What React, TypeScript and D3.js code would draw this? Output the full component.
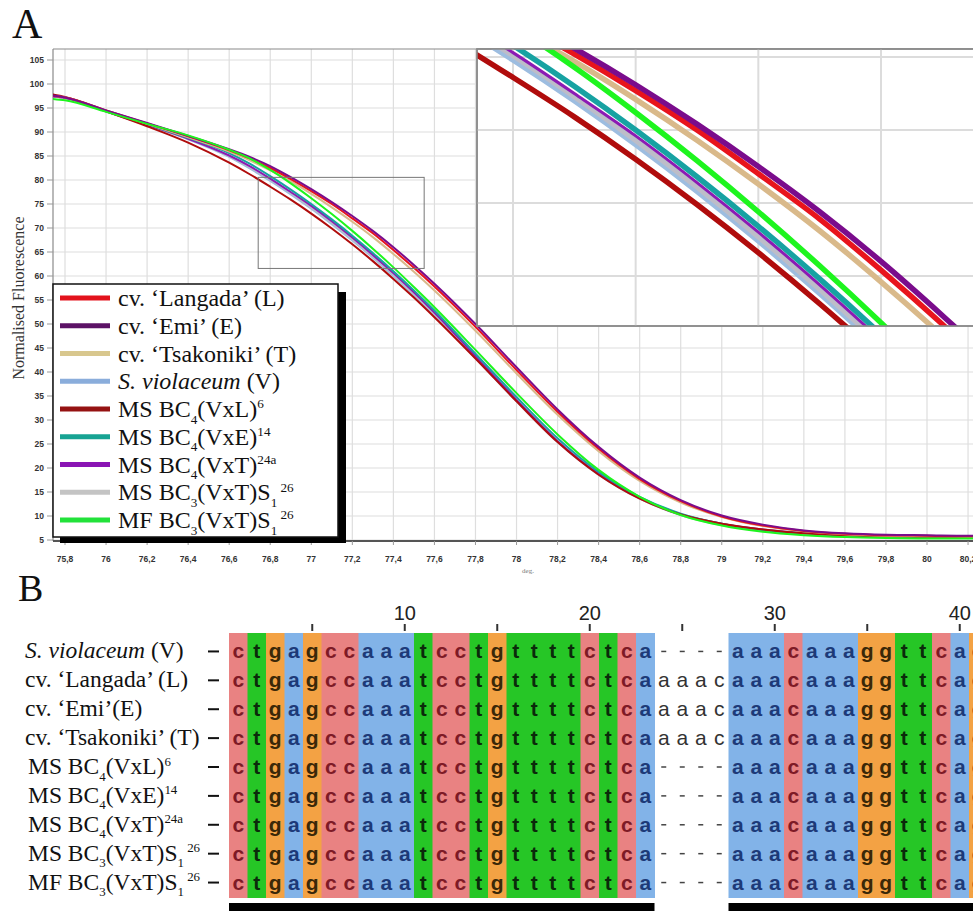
import React from 'react';
import * as d3 from 'd3';

// melt curve temperatures (deg) and normalised fluorescence per line
const temps = [75.74, 75.8, 76.0, 76.2, 76.4, 76.6, 76.7, 76.8, 76.9, 77.0, 77.1, 77.2, 77.3, 77.4, 77.5, 77.6, 77.8, 78.0, 78.2, 78.4, 78.6, 78.8, 79.0, 79.2, 79.4, 79.6, 79.8, 80.0, 80.2, 80.3];
const langada = [97.5, 97.2, 94.5, 91.8, 89.1, 86.2, 84.5, 82.5, 80.2, 77.7, 75.0, 72.0, 68.9, 65.4, 61.7, 57.8, 49.4, 40.4, 31.7, 24.0, 17.7, 13.1, 9.9, 8.0, 6.9, 6.3, 6.0, 5.9, 5.8, 5.8];
const emi = [97.6, 97.2, 94.5, 91.9, 89.2, 86.4, 84.8, 82.9, 80.6, 78.1, 75.4, 72.5, 69.4, 66.0, 62.3, 58.4, 50.0, 41.0, 32.2, 24.4, 18.0, 13.3, 10.1, 8.2, 7.0, 6.4, 6.1, 6.0, 5.9, 5.9];
const tsakoniki = [97.5, 97.2, 94.5, 91.7, 88.9, 85.9, 84.1, 82.0, 79.7, 77.1, 74.3, 71.3, 68.1, 64.6, 60.9, 57.0, 48.6, 39.7, 31.1, 23.5, 17.3, 12.8, 9.8, 7.9, 6.8, 6.2, 5.9, 5.8, 5.7, 5.7];
const violaceum = [97.4, 97.1, 94.3, 91.4, 88.5, 84.8, 82.4, 79.8, 77.0, 74.0, 70.8, 67.4, 63.8, 60.0, 56.0, 51.8, 42.9, 33.9, 25.4, 18.6, 13.6, 10.2, 8.2, 7.0, 6.3, 5.9, 5.7, 5.6, 5.6, 5.6];
const msVxL = [97.8, 97.3, 94.3, 91.2, 87.8, 83.6, 81.2, 78.6, 75.9, 73.0, 69.9, 66.6, 63.1, 59.4, 55.5, 51.4, 42.8, 33.9, 25.4, 18.6, 13.6, 10.3, 8.4, 7.2, 6.4, 6.0, 5.8, 5.7, 5.6, 5.6];
const msVxE = [97.5, 97.2, 94.4, 91.6, 88.8, 85.6, 83.4, 80.8, 78.0, 75.0, 71.8, 68.4, 64.8, 61.0, 57.0, 52.8, 43.8, 34.8, 26.2, 19.2, 14.0, 10.5, 8.4, 7.1, 6.4, 6.0, 5.8, 5.7, 5.6, 5.6];
const msVxT = [97.4, 97.1, 94.3, 91.5, 88.6, 85.1, 82.9, 80.3, 77.5, 74.6, 71.4, 68.0, 64.4, 60.6, 56.6, 52.4, 43.3, 34.2, 25.6, 18.8, 13.8, 10.4, 8.4, 7.2, 6.5, 6.1, 5.9, 5.8, 5.7, 5.7];
const msBC3 = [97.4, 97.1, 94.3, 91.4, 88.6, 85.0, 82.7, 80.1, 77.3, 74.3, 71.1, 67.7, 64.1, 60.3, 56.3, 52.1, 43.2, 34.2, 25.6, 18.8, 13.7, 10.2, 8.1, 6.9, 6.2, 5.8, 5.6, 5.5, 5.5, 5.5];
const mfBC3 = [96.9, 96.6, 94.2, 91.7, 89.3, 86.3, 84.5, 82.1, 79.3, 76.2, 72.9, 69.4, 65.7, 61.8, 57.7, 53.5, 44.6, 35.6, 27.0, 19.6, 14.0, 10.2, 8.0, 6.7, 6.0, 5.6, 5.4, 5.3, 5.3, 5.3];

const xTicks = [75.8, 76, 76.2, 76.4, 76.6, 76.8, 77, 77.2, 77.4, 77.6, 77.8, 78, 78.2, 78.4, 78.6, 78.8, 79, 79.2, 79.4, 79.6, 79.8, 80, 80.2];
const yTicks = [5, 10, 15, 20, 25, 30, 35, 40, 45, 50, 55, 60, 65, 70, 75, 80, 85, 90, 95, 100, 105];
const insetXGrid = [76.8, 77.0, 77.2, 77.4];
const insetYGrid = [65, 70, 75, 80];

type Part = [string, string];

// legend order
const legendLabels: Part[][] = [
  [['cv. ‘Langada’ (L)', '']],
  [['cv. ‘Emi’ (E)', '']],
  [['cv. ‘Tsakoniki’ (T)', '']],
  [['S. violaceum', 'i'], [' (V)', '']],
  [['MS BC', ''], ['4', 'sub'], ['(VxL)', ''], ['6', 'sup']],
  [['MS BC', ''], ['4', 'sub'], ['(VxE)', ''], ['14', 'sup']],
  [['MS BC', ''], ['4', 'sub'], ['(VxT)', ''], ['24a', 'sup']],
  [['MS BC', ''], ['3', 'sub'], ['(VxT)S', ''], ['1', 'sub'], ['\u00a026', 'sup']],
  [['MF BC', ''], ['3', 'sub'], ['(VxT)S', ''], ['1', 'sub'], ['\u00a026', 'sup']],
];
const legendColors = ['#e3121c', '#5c1266', '#d8c78e', '#8aaddb', '#951212', '#17a393', '#8a14b4', '#c4c4c4', '#22e23a'];
const curveColors = ['#e8141c', '#7a0c8c', '#d9b98a', '#9dbde0', '#b00c0c', '#17a2a2', '#8c1ab4', '#bdbdc8', '#1ef51e'];
const curveValues = [langada, emi, tsakoniki, violaceum, msVxL, msVxE, msVxT, msBC3, mfBC3];
const drawOrder = [3, 7, 6, 5, 4, 2, 0, 1, 8];

// alignment (panel B)
const alignLabels: Part[][] = [
  [['S. violaceum', 'i'], [' (V)', '']],
  [['cv. ‘Langada’ (L)', '']],
  [['cv. ‘Emi’(E)', '']],
  [['cv. ‘Tsakoniki’ (T)', '']],
  [['MS BC', ''], ['4', 'sub'], ['(VxL)', ''], ['6', 'sup']],
  [['MS BC', ''], ['4', 'sub'], ['(VxE)', ''], ['14', 'sup']],
  [['MS BC', ''], ['4', 'sub'], ['(VxT)', ''], ['24a', 'sup']],
  [['MS BC', ''], ['3', 'sub'], ['(VxT)S', ''], ['1', 'sub'], ['\u00a026', 'sup']],
  [['MF BC', ''], ['3', 'sub'], ['(VxT)S', ''], ['1', 'sub'], ['\u00a026', 'sup']],
];
const seqHead = 'ctgagccaaatcctgttttctca';
const seqInsert = ['----', 'aaac', 'aaac', 'aaac', '----', '----', '----', '----', '----'];
const seqTail = 'aaacaaaggttcag';
const rulerTicks = [5, 10, 15, 20, 25, 30, 35, 40];
const rulerLabels = [10, 20, 30, 40];

const baseBg: Record<string, string> = { a: '#82b3e8', c: '#e98282', g: '#f3a244', t: '#26c626' };
const baseFg: Record<string, string> = { a: '#1d3a78', c: '#7e1a26', g: '#3a2808', t: '#0b2a0b' };

const serif = "'Liberation Serif', 'Times New Roman', serif";
const sans = "'Liberation Sans', Arial, sans-serif";

function Rich({ parts, x, y, size }: { parts: Part[]; x: number; y: number; size: number }) {
  let cur = 0;
  return (
    <text x={x} y={y} fontSize={size} fontFamily={serif} fill="#111">
      {parts.map(([t, s], i) => {
        const target = s === 'sub' ? size * 0.28 : s === 'sup' ? -size * 0.36 : 0;
        const dy = target - cur;
        cur = target;
        const small = s === 'sub' || s === 'sup';
        return (
          <tspan key={i} dy={dy} fontSize={small ? size * 0.55 : size} fontStyle={s === 'i' ? 'italic' : 'normal'}>
            {t}
          </tspan>
        );
      })}
    </text>
  );
}

export default function App() {
  const W = 973;
  const H = 911;

  // panel A scales
  const x = d3.scaleLinear().domain([75.8, 80]).range([65, 927]);
  const y = d3.scaleLinear().domain([5, 105]).range([540, 60]);
  const frame = { l: 53, t: 49, r: W, b: 541 };

  // inset scales (3x zoom of the boxed region)
  const xi = d3.scaleLinear().domain([76.8, 77.4]).range([513, 881]);
  const yi = d3.scaleLinear().domain([65, 75]).range([276, 130]);
  const inset = { l: 477, t: 49, r: W + 2, b: 326 };

  const series = temps.map((_, i) => i);
  const line = d3
    .line<number>()
    .x((i) => x(temps[i]))
    .curve(d3.curveMonotoneX);
  const lineI = d3
    .line<number>()
    .x((i) => xi(temps[i]))
    .curve(d3.curveMonotoneX);

  const fmt = (v: number) => String(v).replace('.', ',');

  // panel B scales
  const cols = d3.range(1, 42);
  const colX = d3.scaleBand<number>().domain(cols).range([229, 229 + 41 * 18.5]);
  const rowY = d3.scaleBand<number>().domain(d3.range(9)).range([637, 897]);
  const consensus = seqHead + '    ' + seqTail;

  const legendY = (i: number) => 298 + i * 27.75;

  return (
    <svg width={W} height={H} style={{ position: 'absolute', left: 0, top: 0, background: '#fff' }}>
      <defs>
        <clipPath id="plotClip">
          <rect x={frame.l} y={frame.t} width={frame.r - frame.l} height={frame.b - frame.t} />
        </clipPath>
        <clipPath id="insetClip">
          <rect x={inset.l} y={inset.t} width={inset.r - inset.l} height={inset.b - inset.t} />
        </clipPath>
      </defs>
      <rect width={W} height={H} fill="#fff" />

      {/* panel A */}
      <text x={12} y={38} fontFamily={serif} fontSize={42} fill="#111">A</text>

      {xTicks.map((t) => (
        <line key={'gx' + t} x1={x(t)} x2={x(t)} y1={frame.t} y2={frame.b} stroke="#dedede" strokeWidth={1.2} />
      ))}
      {yTicks.map((t) => (
        <line key={'gy' + t} x1={frame.l} x2={frame.r} y1={y(t)} y2={y(t)} stroke="#dedede" strokeWidth={1.2} />
      ))}
      <line x1={frame.l} x2={frame.r} y1={frame.t} y2={frame.t} stroke="#8a8a8a" strokeWidth={1.2} />
      <line x1={frame.l} x2={frame.l} y1={frame.t} y2={frame.b} stroke="#8a8a8a" strokeWidth={1.2} />

      <g clipPath="url(#plotClip)">
        {drawOrder.map((k) => (
          <path
            key={'c' + k}
            d={line.y((i) => y(curveValues[k][i]))(series) || ''}
            fill="none"
            stroke={curveColors[k]}
            strokeWidth={2}
          />
        ))}
      </g>

      {/* zoom box */}
      <rect
        x={x(xi.invert(inset.l))}
        y={y(yi.invert(inset.t))}
        width={x(xi.invert(W)) - x(xi.invert(inset.l))}
        height={y(yi.invert(inset.b)) - y(yi.invert(inset.t))}
        fill="none"
        stroke="#777"
        strokeWidth={1}
      />

      {/* axes */}
      {yTicks.map((t) => (
        <g key={'yt' + t}>
          <line x1={47} x2={frame.l} y1={y(t)} y2={y(t)} stroke="#999" />
          <text x={44} y={y(t) + 3} textAnchor="end" fontFamily={sans} fontWeight={700} fontSize={8.5} fill="#333">
            {t}
          </text>
        </g>
      ))}
      <line x1={frame.l} x2={frame.r} y1={frame.b} y2={frame.b} stroke="#555" strokeWidth={2} />
      {xTicks.map((t) => (
        <g key={'xt' + t}>
          <line x1={x(t)} x2={x(t)} y1={frame.b} y2={frame.b + 4} stroke="#999" />
          <text x={x(t)} y={562} textAnchor="middle" fontFamily={sans} fontWeight={700} fontSize={8.5} fill="#333">
            {fmt(t)}
          </text>
        </g>
      ))}
      <text x={528} y={573} textAnchor="middle" fontFamily={serif} fontSize={7} fill="#777">deg.</text>
      <text
        transform="translate(24,298) rotate(-90)"
        textAnchor="middle"
        fontFamily={serif}
        fontSize={16}
        fill="#333"
      >
        Normalised Fluorescence
      </text>

      {/* inset */}
      <rect x={inset.l} y={inset.t} width={inset.r - inset.l} height={inset.b - inset.t} fill="#fff" stroke="#8a8a8a" strokeWidth={1.5} />
      <g clipPath="url(#insetClip)">
        {insetXGrid.map((t) => (
          <line key={'ix' + t} x1={xi(t)} x2={xi(t)} y1={inset.t} y2={inset.b} stroke="#dcdcdc" strokeWidth={2} />
        ))}
        {insetYGrid.map((t) => (
          <line key={'iy' + t} x1={inset.l} x2={inset.r} y1={yi(t)} y2={yi(t)} stroke="#dcdcdc" strokeWidth={2} />
        ))}
        {drawOrder.map((k) => (
          <path
            key={'ic' + k}
            d={lineI.y((i) => yi(curveValues[k][i]))(series) || ''}
            fill="none"
            stroke={curveColors[k]}
            strokeWidth={k === 6 ? 3 : 5.5}
          />
        ))}
      </g>
      <rect x={inset.l} y={inset.t} width={inset.r - inset.l} height={inset.b - inset.t} fill="none" stroke="#8a8a8a" strokeWidth={1.5} />

      {/* legend */}
      <rect x={60} y={292} width={286} height={251} fill="#000" />
      <rect x={53} y={284} width={285} height={253} fill="#fff" stroke="#111" strokeWidth={1.5} />
      {legendLabels.map((parts, i) => (
        <g key={'lg' + i}>
          <line x1={60} x2={110} y1={legendY(i)} y2={legendY(i)} stroke={legendColors[i]} strokeWidth={5} />
          <Rich parts={parts} x={118} y={legendY(i) + 8} size={24} />
        </g>
      ))}

      {/* panel B */}
      <text x={18} y={601} fontFamily={serif} fontSize={38} fill="#111">B</text>

      {rulerTicks.map((t) => (
        <line
          key={'rt' + t}
          x1={(colX(t) || 0) + colX.bandwidth() / 2}
          x2={(colX(t) || 0) + colX.bandwidth() / 2}
          y1={624}
          y2={631}
          stroke="#333"
          strokeWidth={2}
        />
      ))}
      {rulerLabels.map((t) => (
        <text
          key={'rl' + t}
          x={(colX(t) || 0) + colX.bandwidth() / 2}
          y={620}
          textAnchor="middle"
          fontFamily={sans}
          fontSize={20}
          fill="#222"
        >
          {t}
        </text>
      ))}

      {cols.map((c) => {
        const b = consensus[c - 1];
        if (!baseBg[b]) return null;
        return <rect key={'bg' + c} x={colX(c)} y={633} width={colX.bandwidth() + 0.5} height={265} fill={baseBg[b]} />;
      })}

      {alignLabels.map((parts, r) => {
        const seq = seqHead + seqInsert[r] + seqTail;
        const cy = (rowY(r) || 0) + rowY.bandwidth() / 2;
        return (
          <g key={'row' + r}>
            <Rich parts={parts} x={r >= 4 ? 28 : 25} y={cy + 7} size={23.5} />
            <line x1={208} x2={219} y1={cy} y2={cy} stroke="#111" strokeWidth={2} />
            {cols.map((c) => {
              const ch = seq[c - 1];
              const cx = (colX(c) || 0) + colX.bandwidth() / 2;
              const inGap = consensus[c - 1] === ' ';
              if (ch === '-') {
                return <line key={c} x1={cx - 2.5} x2={cx + 2.5} y1={cy} y2={cy} stroke="#444" strokeWidth={1.5} />;
              }
              return (
                <text
                  key={c}
                  x={cx}
                  y={cy + 7}
                  textAnchor="middle"
                  fontFamily={sans}
                  fontWeight={inGap ? 400 : 700}
                  fontSize={21}
                  fill={inGap ? '#333' : baseFg[ch]}
                >
                  {ch}
                </text>
              );
            })}
          </g>
        );
      })}

      <rect x={colX(1)} y={903} width={(colX(23) || 0) + colX.bandwidth() - (colX(1) || 0)} height={8} fill="#000" />
      <rect x={colX(28)} y={903} width={W - (colX(28) || 0)} height={8} fill="#000" />
    </svg>
  );
}
